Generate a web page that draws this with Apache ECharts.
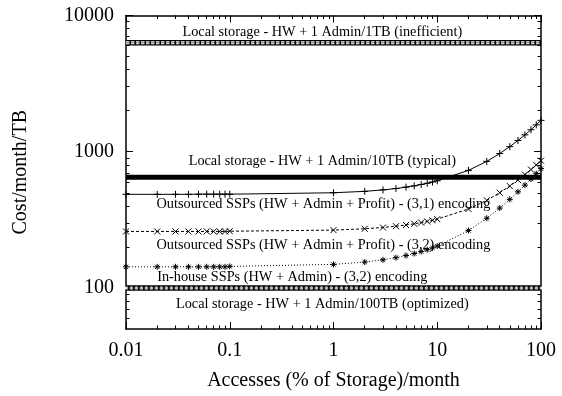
<!DOCTYPE html>
<html><head><meta charset="utf-8">
<script src="https://cdn.jsdelivr.net/npm/echarts@6/dist/echarts.min.js"></script>
<style>html,body{margin:0;padding:0;background:#fff}#c{width:562px;height:396px}</style>
</head><body><div id="c"></div>
<script>
// ---- data ----
const accesses = [0.01,0.02,0.03,0.04,0.05,0.06,0.07,0.08,0.09,0.1,
                  1,2,3,4,5,6,7,8,9,10,
                  20,30,40,50,60,70,80,90,100];
const outsourced31 = [487,487,487,487,488,488,488,488,488,488,
                      500,512,525,537,550,562,575,587,600,612,
                      730,850,970,1090,1210,1330,1450,1575,1700];
const outsourced32 = [260,260,260,260,260,260,260,260,260,261,
                      266,272,278,284,290,296,302,308,314,320,
                      380,440,500,560,620,680,740,800,860];
const inhouse32 = [143,143,143,143,143,143,143,143,143,144,
                   149,155,161,167,173,179,185,191,197,203,
                   264,325,386,447,508,569,630,691,752];
const lineEnds = [0.01, 100];
const localInefficient = 6300;
const localTypical = 650;
const localOptimized = 100;

const xRange = [0.01, 100];
const yRange = [50, 10000];
const xMajorTicks = [0.01, 0.1, 1, 10, 100];
const xMinorTicks = [0.02,0.03,0.04,0.05,0.06,0.07,0.08,0.09,
                     0.2,0.3,0.4,0.5,0.6,0.7,0.8,0.9,
                     2,3,4,5,6,7,8,9,
                     20,30,40,50,60,70,80,90];
const yMajorTicks = [100, 1000, 10000];
const yMinorTicks = [60,70,80,90,200,300,400,500,600,700,800,900,
                     2000,3000,4000,5000,6000,7000,8000,9000];

const labelTexts = {
  inefficient: 'Local storage - HW + 1 Admin/1TB (inefficient)',
  typical: 'Local storage - HW + 1 Admin/10TB (typical)',
  out31: 'Outsourced SSPs (HW + Admin + Profit) - (3,1) encoding',
  out32: 'Outsourced SSPs (HW + Admin + Profit) - (3,2) encoding',
  inhouse: 'In-house SSPs (HW + Admin) - (3,2) encoding',
  optimized: 'Local storage - HW + 1 Admin/100TB (optimized)'
};
const xTitle = 'Accesses (% of Storage)/month';
const yTitle = 'Cost/month/TB';

// ---- styling ----
const FONT = 'Liberation Serif';
const fmt = v => String(+Number(v).toPrecision(6));
const pairs = (xs, ys) => xs.map((x, i) => [x, ys[i]]);
const flat = (v) => lineEnds.map(x => [x, v]);

function makeX(position, major, showLine, showLabel) {
  return {
    type: 'log', logBase: 10, min: xRange[0], max: xRange[1], position,
    axisLine: {show: showLine, lineStyle: {color: '#000', width: 1.5}},
    axisTick: {show: true, inside: true, length: major ? 7 : 3.5,
               customValues: major ? xMajorTicks : xMinorTicks,
               lineStyle: {color: '#000', width: 1}},
    axisLabel: {show: showLabel, customValues: xMajorTicks, formatter: fmt,
                fontFamily: FONT, fontSize: 20, color: '#000', margin: 12},
    minorTick: {show: false}, splitLine: {show: false}
  };
}
function makeY(position, major, showLine, showLabel) {
  return {
    type: 'log', logBase: 10, min: yRange[0], max: yRange[1], position,
    axisLine: {show: showLine, lineStyle: {color: '#000', width: 1.5}},
    axisTick: {show: true, inside: true, length: major ? 7 : 3.5,
               customValues: major ? yMajorTicks : yMinorTicks,
               lineStyle: {color: '#000', width: 1}},
    axisLabel: {show: showLabel, customValues: yMajorTicks, formatter: fmt,
                fontFamily: FONT, fontSize: 20, color: '#000', margin: 12},
    minorTick: {show: false}, splitLine: {show: false}
  };
}

const xAxes = [makeX('bottom', true, true, true), makeX('bottom', false, false, false),
               makeX('top', true, true, false), makeX('top', false, false, false)];
xAxes[0].name = xTitle; xAxes[0].nameLocation = 'middle'; xAxes[0].nameGap = 42;
xAxes[0].nameTextStyle = {fontFamily: FONT, fontSize: 20, color: '#000'};
const yAxes = [makeY('left', true, true, true), makeY('left', false, false, false),
               makeY('right', true, true, false), makeY('right', false, false, false)];
yAxes[0].name = yTitle; yAxes[0].nameLocation = 'middle'; yAxes[0].nameGap = 95;
yAxes[0].nameTextStyle = {fontFamily: FONT, fontSize: 20, color: '#000'};

const textStyle = {fontFamily: FONT, fontSize: 14.3, color: '#000'};
function note(text, x, y, dy) {
  return {
    symbol: 'circle', symbolSize: 0, silent: true, animation: false,
    label: Object.assign({show: true, position: 'inside', formatter: text, offset: [0, dy]}, textStyle),
    data: [{coord: [x, y]}]
  };
}

const plus = 'path://M0,5 L10,5 M5,0 L5,10';
const cross = 'path://M0,0 L10,10 M10,0 L0,10';
const star = 'path://M0,5 L10,5 M5,0 L5,10 M1.5,1.5 L8.5,8.5 M8.5,1.5 L1.5,8.5';
const markStyle = {color: 'rgba(0,0,0,0)', borderColor: '#000', borderWidth: 1};

function band(v, round, labelNote) {
  // strip of hollow markers: black outline + white holes + thin center line
  const base = {type: 'line', showSymbol: false, silent: true, animation: false, clip: false};
  return [
    Object.assign({}, base, {data: flat(v), lineStyle: {color: '#000', width: 5.5}}),
    Object.assign({}, base, {data: flat(v), lineStyle: {color: '#fff', width: 3,
        type: round ? [0.8, 4.2] : [3.5, 1.5], cap: round ? 'round' : 'butt'}}),
    Object.assign({}, base, {data: flat(v), lineStyle: {color: '#000', width: 0.6}, markPoint: labelNote})
  ];
}

const series = [
  ...band(localInefficient, false, note(labelTexts.inefficient, 0.78, localInefficient, -11)),
  ...band(localOptimized, true, note(labelTexts.optimized, 0.78, localOptimized, 16)),
  {type: 'line', data: pairs(accesses, outsourced31), symbol: plus, symbolSize: 7,
   itemStyle: markStyle, lineStyle: {color: '#000', width: 1}, clip: false, animation: false,
   markPoint: note(labelTexts.out31, 0.8, outsourced31[0], 10)},
  {type: 'line', data: pairs(accesses, outsourced32), symbol: cross, symbolSize: 6,
   itemStyle: markStyle, lineStyle: {color: '#000', width: 1, type: [3, 2]}, clip: false, animation: false,
   markPoint: note(labelTexts.out32, 0.8, outsourced32[0], 13.5)},
  {type: 'line', data: pairs(accesses, inhouse32), symbol: star, symbolSize: 6,
   itemStyle: markStyle, lineStyle: {color: '#000', width: 1, type: [1, 2]}, clip: false, animation: false,
   markPoint: note(labelTexts.inhouse, 0.4, inhouse32[0], 10)},
  {type: 'line', data: flat(localTypical), showSymbol: false, silent: true, animation: false,
   lineStyle: {color: '#000', width: 5},
   markPoint: note(labelTexts.typical, 0.78, localTypical, -16)}
];

const chart = echarts.init(document.getElementById('c'), null, {renderer: 'canvas'});
chart.setOption({
  backgroundColor: '#fff',
  animation: false,
  grid: {left: 126, right: 21, top: 15.5, bottom: 62, containLabel: false},
  xAxis: xAxes,
  yAxis: yAxes,
  series
});
</script></body></html>
